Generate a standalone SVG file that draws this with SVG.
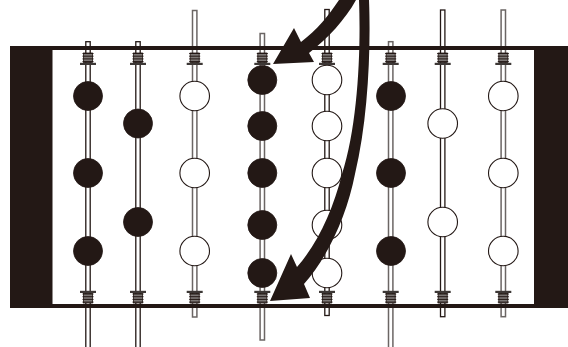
<svg xmlns="http://www.w3.org/2000/svg" width="568" height="347" viewBox="0 0 568 347">
<style>
.rod{fill:#fff;stroke:#231815;stroke-width:1.300}
.rodg{fill:#fff;stroke:#6b6664;stroke-width:1.500}
.k{fill:#231815;stroke:#231815;stroke-width:.8}
.w{fill:#fff;stroke:#231815;stroke-width:1.100}
.frame{fill:#231815}
.arrow{fill:#231815}
</style>
<defs>
<g id="topSpring">
<rect x="-4.500" y="53" width="9" height="9.500" fill="#7d7876" stroke="#231815" stroke-width=".8"/>
<path d="M-5.500 53.500H5.500M-5.500 56.200H5.500M-5.500 58.900H5.500M-5.500 61.600H5.500" stroke="#231815" stroke-width="1" fill="none"/>
<rect x="-8" y="62.800" width="16" height="2.200" fill="#3d3836"/>
</g>
<g id="botSpring">
<rect x="-8" y="290.800" width="16" height="2.200" fill="#3d3836"/>
<rect x="-4.500" y="293.500" width="9" height="9.500" fill="#7d7876" stroke="#231815" stroke-width=".8"/>
<path d="M-5.500 294H5.500M-5.500 296.700H5.500M-5.500 299.400H5.500M-5.500 302.100H5.500" stroke="#231815" stroke-width="1" fill="none"/>
</g>
</defs>
<g id="rod-1">
<rect class="rod" x="85.800" y="41.700" width="4.400" height="310"/>
<use href="#topSpring" x="88"/><use href="#botSpring" x="88"/>
<circle class="k" cx="88" cy="96" r="14.500"/><circle class="k" cx="88" cy="173" r="14.500"/><circle class="k" cx="88" cy="251" r="14.500"/>
</g>
<g id="rod-2">
<rect class="rod" x="135.800" y="41.700" width="4.400" height="310"/>
<use href="#topSpring" x="138"/><use href="#botSpring" x="138"/>
<circle class="k" cx="138" cy="123.500" r="14.500"/><circle class="k" cx="138" cy="222" r="14.500"/>
</g>
<g id="rod-3">
<rect class="rodg" x="192.500" y="10.500" width="4.400" height="306.500"/>
<use href="#topSpring" x="194.700"/><use href="#botSpring" x="194.700"/>
<circle class="w" cx="194.700" cy="96" r="14.800"/><circle class="w" cx="194.700" cy="173" r="14.800"/><circle class="w" cx="194.700" cy="251" r="14.800"/>
</g>
<g id="rod-4">
<rect class="rodg" x="260.100" y="33.500" width="4.400" height="306.500"/>
<use href="#topSpring" x="262.300"/><use href="#botSpring" x="262.300"/>
<circle class="k" cx="262.300" cy="80" r="14.500"/><circle class="k" cx="262.300" cy="126" r="14.500"/><circle class="k" cx="262.300" cy="173" r="14.500"/><circle class="k" cx="262.300" cy="225" r="14.500"/><circle class="k" cx="262.300" cy="273" r="14.500"/>
</g>
<g id="rod-5">
<rect class="rod" x="324.800" y="9.500" width="4.400" height="306"/>
<use href="#topSpring" x="327"/><use href="#botSpring" x="327"/>
<circle class="w" cx="327" cy="80" r="14.800"/><circle class="w" cx="327" cy="126" r="14.800"/><circle class="w" cx="327" cy="173" r="14.800"/><circle class="w" cx="327" cy="225" r="14.800"/><circle class="w" cx="327" cy="273" r="14.800"/>
</g>
<g id="rod-6">
<rect class="rodg" x="388.500" y="41.700" width="4.400" height="310"/>
<use href="#topSpring" x="390.700"/><use href="#botSpring" x="390.700"/>
<circle class="k" cx="391" cy="96" r="14.500"/><circle class="k" cx="391" cy="173" r="14.500"/><circle class="k" cx="391" cy="251" r="14.500"/>
</g>
<g id="rod-7">
<rect class="rod" x="440.500" y="10" width="4.400" height="306.700"/>
<use href="#topSpring" x="442.700"/><use href="#botSpring" x="442.700"/>
<circle class="w" cx="442.700" cy="123.500" r="14.800"/><circle class="w" cx="442.700" cy="222" r="14.800"/>
</g>
<g id="rod-8">
<rect class="rodg" x="501.100" y="10" width="4.400" height="306.700"/>
<use href="#topSpring" x="503.300"/><use href="#botSpring" x="503.300"/>
<circle class="w" cx="503.300" cy="96" r="14.800"/><circle class="w" cx="503.300" cy="173" r="14.800"/><circle class="w" cx="503.300" cy="251" r="14.800"/>
</g>
<g id="frame">
<rect class="frame" x="10" y="46" width="42.500" height="262"/>
<rect class="frame" x="534" y="46" width="34" height="262"/>
<rect class="frame" x="10" y="46" width="558" height="4"/>
<rect class="frame" x="50" y="304" width="518" height="4"/>
</g>
<g id="connectors">
<path class="arrow" d="M339 0C329 15 317 30 301 42L294 28L273 64L314 62L309 53C328 38 345 20 356 0Z"/>
<path class="arrow" d="M359 0C361 50 358 125 342 174C333 210 318 243 297 267L291 254L270 301L310 298L304 284C328 257 347 215 355 174C368 120 371 50 369 0Z"/>
</g>
</svg>
